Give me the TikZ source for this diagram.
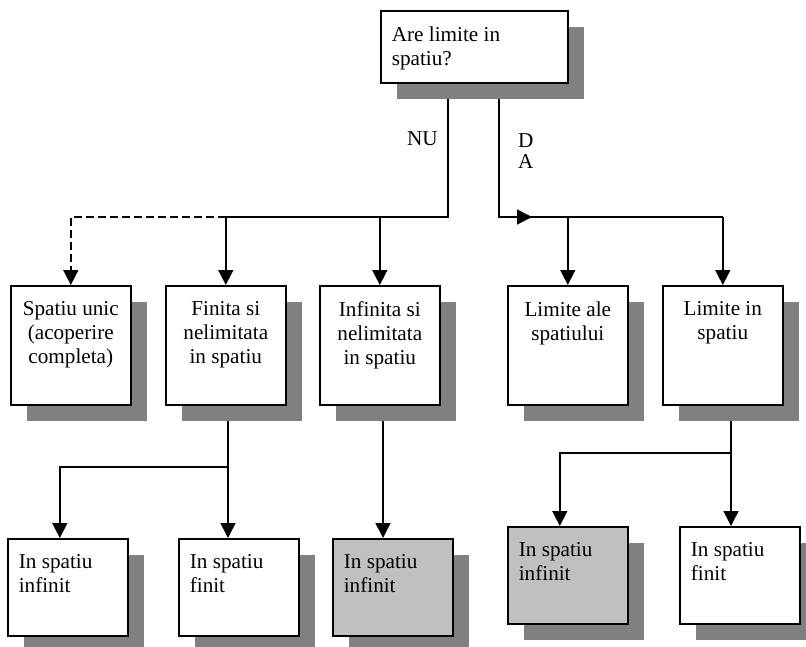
\documentclass[tikz,border=0pt]{standalone}
\usepackage{fontspec}
\setmainfont{Liberation Serif}
\usetikzlibrary{arrows.meta,shadows,backgrounds}

\definecolor{shadowgray}{HTML}{808080}
\definecolor{boxgray}{HTML}{C0C0C0}

\newcommand{\midtext}[1]{\parbox[t][87pt][t]{98pt}{\centering #1}}
\newcommand{\lowtext}[1]{\parbox[t][65pt][t]{98pt}{\raggedright #1}}

\tikzset{
  box/.style={draw, line width=1.6pt, fill=white, anchor=north west,
    inner xsep=11pt, inner ysep=16pt,
    drop shadow={shadow xshift=16pt, shadow yshift=-16pt, fill=shadowgray, opacity=1}},
  link/.style={line width=1.5pt},
  lbl/.style={inner sep=0pt},
}

\begin{document}
\begin{tikzpicture}[x=1pt, y=-1pt, >={Triangle[width=15pt,length=15pt]},
  font=\fontsize{21.2}{24}\selectfont]
  \useasboundingbox (0,0) rectangle (806,647);

  % Question
  \node[box] (q) at (380,10) {\parbox[t][40pt][t]{165pt}{\raggedright Are limite in\\spatiu?}};

  % Middle row
  \node[box] (m1) at (10,285)  {\midtext{Spatiu unic\\(acoperire\\completa)}};
  \node[box] (m2) at (165,285) {\midtext{Finita si\\nelimitata\\in spatiu}};
  \node[box] (m3) at (319,285) {\midtext{Infinita si\\nelimitata\\in spatiu}};
  \node[box] (m4) at (507,285) {\midtext{Limite ale\\spatiului}};
  \node[box] (m5) at (662,285) {\midtext{Limite in\\spatiu}};

  % Bottom row
  \node[box] (l1) at (7,538)   {\lowtext{In spatiu\\infinit}};
  \node[box] (l2) at (178,538) {\lowtext{In spatiu\\finit}};
  \node[box, fill=boxgray] (l3) at (332,538) {\lowtext{In spatiu\\infinit}};
  \node[box, fill=boxgray] (l4) at (507,526) {\lowtext{In spatiu\\infinit}};
  \node[box] (l5) at (679,526) {\lowtext{In spatiu\\finit}};

  % Answers
  \node[lbl, anchor=base east] (nu lbl) at (438,146) {NU};
  \node[lbl, anchor=north west, align=left, font=\fontsize{21.2}{21}\selectfont] (da lbl) at (518,133) {D\\A};

  \begin{pgfonlayer}{background}
    \coordinate (nu) at (448,217);
    \coordinate (da) at (499,217);
    \coordinate (da tip) at (532,217);
    \coordinate (f1) at (228,467);
    \coordinate (f2) at (731,453);
    \coordinate (f3) at (383,467);

    % NU branch
    \draw[link] (nu |- q.south) -- (nu) -- (m2.north |- nu);
    \draw[link, dash pattern=on 8pt off 4pt, ->] (m2.north |- nu) -| (m1.north);
    \draw[link, ->] (m2.north |- nu) -- (m2.north);
    \draw[link, ->] (m3.north |- nu) -- (m3.north);

    % DA branch
    \draw[link] (da |- q.south) -- (da) -- (m5.north |- da);
    \draw[link, ->] (da) -- (da tip);
    \draw[link, ->] (m4.north |- da) -- (m4.north);
    \draw[link, ->] (m5.north |- da) -- (m5.north);

    % Lower level
    \draw[link, ->] (f1 |- m2.south) -- (f1 |- l2.north);
    \draw[link, ->] (f1) -| ([xshift=-8pt]l1.north);
    \draw[link, ->] (f3 |- m3.south) -- (f3 |- l3.north);
    \draw[link, ->] (f2 |- m5.south) -- (f2 |- l5.north);
    \draw[link, ->] (f2) -| ([xshift=-8pt]l4.north);
  \end{pgfonlayer}

\end{tikzpicture}
\end{document}
